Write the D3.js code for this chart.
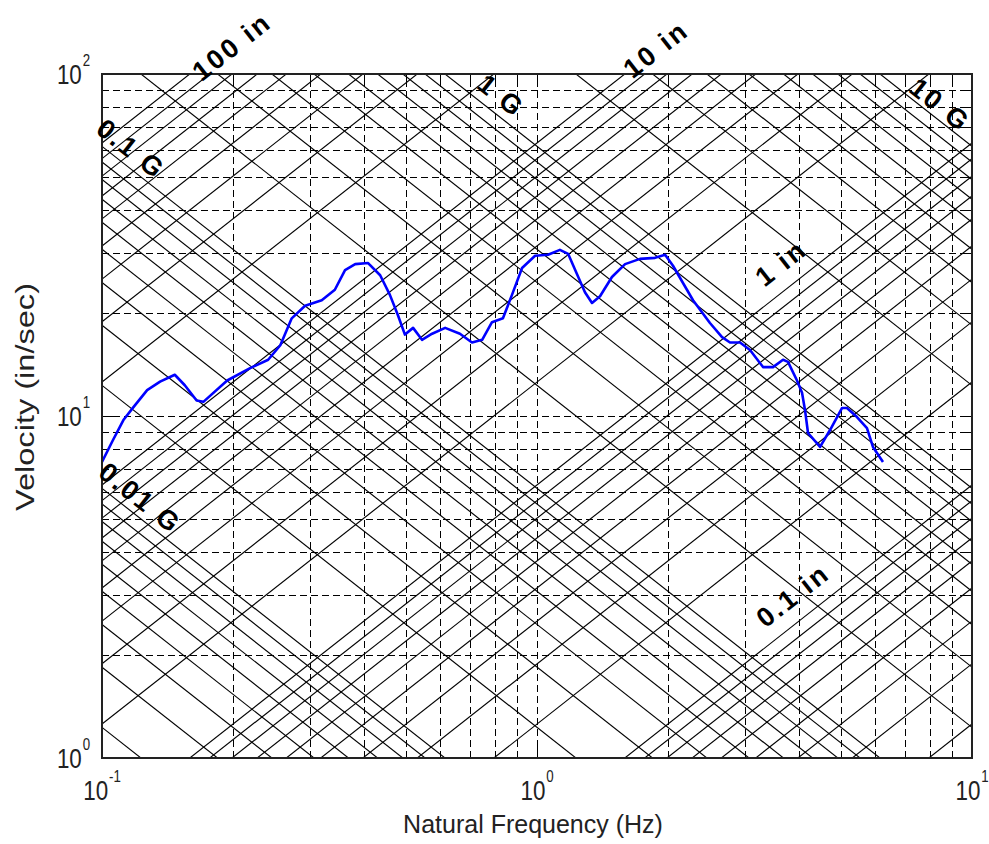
<!DOCTYPE html>
<html>
<head>
<meta charset="utf-8">
<script src="https://cdn.jsdelivr.net/npm/d3@7"></script>
<style>
  body { margin: 0; background: #fff; }
  svg { display: block; }
</style>
</head>
<body>
<div id="chart"></div>
<script>
// shock response spectrum
var freq = [0.100, 0.106, 0.112, 0.118, 0.127, 0.136, 0.147, 0.155, 0.165, 0.171,
    0.194, 0.219, 0.241, 0.257, 0.273, 0.293, 0.320, 0.343, 0.362, 0.382,
    0.409, 0.436, 0.459, 0.479, 0.497, 0.519, 0.544, 0.574, 0.615, 0.665,
    0.709, 0.748, 0.788, 0.835, 0.876, 0.924, 0.990, 1.060, 1.129, 1.179,
    1.229, 1.289, 1.338, 1.396, 1.487, 1.594, 1.725, 1.868, 1.970, 2.054,
    2.284, 2.498, 2.663, 2.778, 2.929, 3.088, 3.308, 3.488, 3.678, 3.776,
    3.960, 4.067, 4.132, 4.198, 4.474, 4.717, 5.024, 5.159, 5.440, 5.735,
    5.920, 6.243];
var velocity = [7.34, 8.51, 9.73, 10.6, 11.9, 12.6, 13.2, 12.3, 11.1, 11.0,
    12.7, 13.8, 14.6, 16.1, 19.3, 21.0, 21.8, 23.4, 26.7, 27.8,
    28.0, 25.8, 22.6, 19.7, 17.3, 18.1, 16.7, 17.4, 18.1, 17.4,
    16.4, 16.7, 18.8, 19.3, 22.6, 27.1, 29.4, 29.6, 30.6, 29.8,
    26.4, 23.0, 21.4, 22.4, 25.5, 27.8, 28.8, 29.0, 29.6, 27.5,
    21.8, 18.7, 17.0, 16.4, 16.4, 15.6, 13.9, 13.9, 14.6, 14.4,
    12.7, 11.7, 10.4, 8.92, 8.12, 9.10, 10.55, 10.55, 9.93, 9.22,
    8.12, 7.34];

// tripartite grid levels (in and G), 1..9 in each decade
var dispDecades = [0.01, 0.1, 1, 10, 100];
var accelDecades = [0.001, 0.01, 0.1, 1, 10];
var multipliers = [1, 2, 3, 4, 5, 6, 7, 8, 9];

var dispLabelValues = [100, 10, 1, 0.1];
var dispLabelText = ['100 in', '10 in', '1 in', '0.1 in'];
var accelLabelValues = [0.1, 1, 10, 0.01];
var accelLabelText = ['0.1 G', '1 G', '10 G', '0.01 G'];

var xTickPowers = [-1, 0, 1];
var yTickPowers = [0, 1, 2];

var xLabel = 'Natural Frequency (Hz)';
var yLabel = 'Velocity (in/sec)';

var G = 386.09; // in/s^2

function vDisp(f, d) { return 2 * Math.PI * f * d; }
function vAccel(f, a) { return a * G / (2 * Math.PI * f); }

draw();

function draw() {
    var width = 989, height = 844;
    var margin = { top: 74, right: 17, bottom: 86, left: 102 };
    var x0 = margin.left, x1 = width - margin.right;
    var y0 = margin.top, y1 = height - margin.bottom;

    var x = d3.scaleLog().domain([0.1, 10]).range([x0, x1]);
    var y = d3.scaleLog().domain([1, 100]).range([y1, y0]);

    var svg = d3.select('#chart')
        .append('svg')
        .attr('width', width)
        .attr('height', height);

    svg.append('rect')
        .attr('width', width)
        .attr('height', height)
        .attr('fill', '#fff');

    svg.append('clipPath')
        .attr('id', 'plot-clip')
        .append('rect')
        .attr('x', x0)
        .attr('y', y0)
        .attr('width', x1 - x0)
        .attr('height', y1 - y0);

    var minorX = [], minorY = [];
    [0.1, 1].forEach(function (dec) {
        multipliers.forEach(function (m) { minorX.push(m * dec); });
    });
    [1, 10].forEach(function (dec) {
        multipliers.forEach(function (m) { minorY.push(m * dec); });
    });
    minorX = minorX.filter(function (v) { return v > 0.1 && v < 10; });
    minorY = minorY.filter(function (v) { return v > 1 && v < 100; });

    // dashed grid
    var grid = svg.append('g')
        .attr('stroke', '#000')
        .attr('stroke-width', 1.2)
        .attr('stroke-dasharray', '7,4')
        .attr('shape-rendering', 'crispEdges');

    grid.selectAll('.vgrid')
        .data(minorX)
        .enter()
        .append('line')
        .attr('x1', function (d) { return Math.round(x(d)) + 0.5; })
        .attr('x2', function (d) { return Math.round(x(d)) + 0.5; })
        .attr('y1', y1)
        .attr('y2', y0);

    grid.selectAll('.hgrid')
        .data(minorY)
        .enter()
        .append('line')
        .attr('y1', function (d) { return Math.round(y(d)) + 0.5; })
        .attr('y2', function (d) { return Math.round(y(d)) + 0.5; })
        .attr('x1', x0)
        .attr('x2', x1);

    // diagonal lines
    var dispLevels = [], accelLevels = [];
    dispDecades.forEach(function (dec) {
        multipliers.forEach(function (m) { dispLevels.push(m * dec); });
    });
    accelDecades.forEach(function (dec) {
        multipliers.forEach(function (m) { accelLevels.push(m * dec); });
    });
    dispLevels = dispLevels.filter(function (d) {
        return vDisp(10, d) >= 1 && vDisp(0.1, d) <= 100;
    });
    accelLevels = accelLevels.filter(function (a) {
        return vAccel(0.1, a) >= 1 && vAccel(10, a) <= 100;
    });

    var diag = svg.append('g')
        .attr('clip-path', 'url(#plot-clip)')
        .attr('stroke', '#000')
        .attr('stroke-width', 1.15)
        .attr('fill', 'none');

    diag.selectAll('.disp')
        .data(dispLevels)
        .enter()
        .append('line')
        .attr('x1', x(0.1))
        .attr('y1', function (d) { return y(vDisp(0.1, d)); })
        .attr('x2', x(10))
        .attr('y2', function (d) { return y(vDisp(10, d)); });

    diag.selectAll('.accel')
        .data(accelLevels)
        .enter()
        .append('line')
        .attr('x1', x(0.1))
        .attr('y1', function (a) { return y(vAccel(0.1, a)); })
        .attr('x2', x(10))
        .attr('y2', function (a) { return y(vAccel(10, a)); });

    // ticks on all four sides
    var ticks = svg.append('g')
        .attr('stroke', '#000')
        .attr('stroke-width', 1.2)
        .attr('shape-rendering', 'crispEdges');
    var majorLen = 12, minorLen = 7;
    var xt = minorX.map(function (v) { return { v: v, len: minorLen }; })
        .concat([{ v: 1, len: majorLen }]);
    var yt = minorY.map(function (v) { return { v: v, len: minorLen }; })
        .concat([{ v: 10, len: majorLen }]);

    xt.forEach(function (t) {
        var px = Math.round(x(t.v)) + 0.5;
        ticks.append('line').attr('x1', px).attr('x2', px).attr('y1', y1).attr('y2', y1 - t.len);
        ticks.append('line').attr('x1', px).attr('x2', px).attr('y1', y0).attr('y2', y0 + t.len);
    });
    yt.forEach(function (t) {
        var py = Math.round(y(t.v)) + 0.5;
        ticks.append('line').attr('y1', py).attr('y2', py).attr('x1', x0).attr('x2', x0 + t.len);
        ticks.append('line').attr('y1', py).attr('y2', py).attr('x1', x1).attr('x2', x1 - t.len);
    });

    // response curve
    var line = d3.line()
        .x(function (d) { return x(d[0]); })
        .y(function (d) { return y(d[1]); });

    svg.append('path')
        .datum(d3.zip(freq, velocity))
        .attr('clip-path', 'url(#plot-clip)')
        .attr('d', line)
        .attr('fill', 'none')
        .attr('stroke', '#0000ff')
        .attr('stroke-width', 2.6)
        .attr('stroke-linejoin', 'round');

    // axes box
    svg.append('rect')
        .attr('x', x0)
        .attr('y', y0)
        .attr('width', x1 - x0)
        .attr('height', y1 - y0)
        .attr('fill', 'none')
        .attr('stroke', '#222')
        .attr('stroke-width', 2);

    // diagonal labels
    var labelFont = "'Liberation Sans', Arial, sans-serif";
    var dispAngle = Math.atan2(y(vDisp(10, 1)) - y(vDisp(0.1, 1)), x(10) - x(0.1)) * 180 / Math.PI;
    var accelAngle = -dispAngle;

    // where each label sits: frequency along its line and a vertical nudge
    var dispPlace = { 100: [0.199, 6], 10: [1.877, 0], 1: [3.64, -30], 0.1: [3.877, -30] };
    var accelPlace = { 0.1: [0.1166, -20], 1: [0.8265, -22], 10: [8.44, -16], 0.01: [0.1223, -20] };

    var labels = svg.append('g')
        .attr('font-family', labelFont)
        .attr('font-weight', 'bold')
        .attr('font-size', 27)
        .attr('letter-spacing', 2.5)
        .attr('fill', '#000');

    dispLabelValues.forEach(function (d, i) {
        var p = dispPlace[d];
        var px = x(p[0]), py = y(vDisp(p[0], d)) + p[1];
        labels.append('text')
            .attr('transform', 'translate(' + px + ',' + py + ') rotate(' + dispAngle + ')')
            .attr('text-anchor', 'middle')
            .attr('dominant-baseline', 'central')
            .text(dispLabelText[i]);
    });

    accelLabelValues.forEach(function (a, i) {
        var p = accelPlace[a];
        var px = x(p[0]), py = y(vAccel(p[0], a)) + p[1];
        labels.append('text')
            .attr('transform', 'translate(' + px + ',' + py + ') rotate(' + accelAngle + ')')
            .attr('text-anchor', 'middle')
            .attr('dominant-baseline', 'central')
            .text(accelLabelText[i]);
    });

    // tick labels: "10" with the power as a superscript, narrow digits
    var tickFont = "'Liberation Sans', Arial, sans-serif";
    var tl = svg.append('g')
        .attr('font-family', tickFont)
        .attr('fill', '#222');

    function powerLabel(g, tx, ty, anchor, p) {
        var t = g.append('text')
            .attr('transform', 'translate(' + tx + ',' + ty + ') scale(0.83,1)')
            .attr('text-anchor', anchor);
        t.append('tspan')
            .attr('font-size', 27)
            .text('10');
        t.append('tspan')
            .attr('font-size', 16)
            .attr('dx', 1)
            .attr('dy', -18)
            .text(p);
    }

    xTickPowers.forEach(function (p) {
        powerLabel(tl, x(Math.pow(10, p)), y1 + 42, 'middle', p);
    });

    yTickPowers.forEach(function (p) {
        powerLabel(tl, x0 - 12, y(Math.pow(10, p)) + 10, 'end', p);
    });

    // axis titles
    svg.append('text')
        .attr('x', (x0 + x1) / 2 - 4)
        .attr('y', 833)
        .attr('text-anchor', 'middle')
        .attr('font-family', tickFont)
        .attr('font-size', 25)
        .attr('fill', '#222')
        .text(xLabel);

    svg.append('text')
        .attr('transform', 'translate(34,' + 397 + ') rotate(-90)')
        .attr('text-anchor', 'middle')
        .attr('font-family', tickFont)
        .attr('font-size', 26)
        .attr('textLength', 228)
        .attr('lengthAdjust', 'spacingAndGlyphs')
        .attr('fill', '#222')
        .text(yLabel);
}
</script>
</body>
</html>
